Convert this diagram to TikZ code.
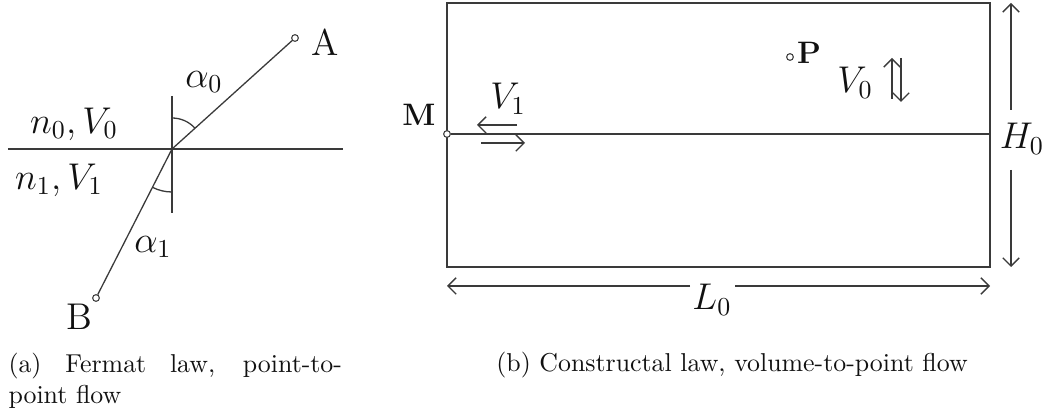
\documentclass[tikz,border=0pt]{standalone}
\usepackage{xcolor}
\usepackage{tikz}
\usetikzlibrary{arrows.meta,positioning,calc}
\definecolor{ink}{HTML}{111111}
\definecolor{rule}{HTML}{3A3A3A}

\begin{document}
\begin{tikzpicture}[x=0.0136cm,y=0.0136cm,>={Straight Barb[length=3.2pt,width=6.4pt]},
    hole/.style={circle,draw=rule,fill=white,line width=0.4pt,inner sep=0pt,minimum size=2.6pt},
    ray/.style={rule,line width=0.5pt},
    frame/.style={rule,line width=0.7pt},
    lab/.style={font=\Large,text=ink,inner sep=0pt}]
  \useasboundingbox (0,0) rectangle (1042,420);
  \foreach \n/\x/\y in {O/172/271, Wl/8/271, Wr/343/271, Nt/172/324, Nb/172/207,
      SW/447/153, NE/990/417, Me/990/286,
      q1/517/295, q2/477/295, q3/481/277, q4/525/277,
      u1/892/321, u2/892/362, d1/901/362, d2/901/318,
      H1/1011/310, Ht/1011/417, H2/1011/250, Hb/1011/153,
      L1/690/134, Ll/447/134, L2/735/134, Lr/990/134}
    \coordinate (\n) at (\x,\y);
  \node[hole] (A) at (295,382) {};
  \node[hole] (B) at (96,122) {};
  \draw[ray] (Wl) -- (Wr);
  \draw[ray] (Nt) -- (Nb);
  \draw[ray] (A) -- (O) -- (B);
  \draw[ray] ($(O)+(90:31)$) arc[start angle=90,end angle=42,radius=31];
  \draw[ray] ($(O)+(270:43)$) arc[start angle=270,end angle=243,radius=43];
  \node[lab] (Alab) at (325,378) {A};
  \node[lab] (Blab) at (79,103) {B};
  \node[lab] (a0) at (204,338) {$\alpha_0$};
  \node[lab] (a1) at (153,173) {$\alpha_1$};
  \node[lab] (m0) at (74,296) {$n_0, V_0$};
  \node[lab] (m1) at (59,240) {$n_1, V_1$};

  \draw[frame] (SW) rectangle (NE);
  \node[hole] (M) at (447,286) {};
  \draw[frame] (M) -- (Me);
  \node[lab,font=\large\bfseries] (Mlab) at (419,305) {M};
  \node[hole] (P) at (790,363) {};
  \node[lab,font=\large\bfseries] (Plab) at (809,367) {P};
  \node[lab] (V1) at (508,321) {$V_1$};
  \draw[ray,->] (q1) -- (q2);
  \draw[ray,->] (q3) -- (q4);
  \node[lab] (V0) at (855,337) {$V_0$};
  \draw[ray,->] (u1) -- (u2);
  \draw[ray,->] (d1) -- (d2);
  \node[lab] (H0) at (1022,281) {$H_0$};
  \draw[ray,->] (H1) -- (Ht);
  \draw[ray,->] (H2) -- (Hb);
  \node[lab] (L0) at (712,120) {$L_0$};
  \draw[ray,->] (L1) -- (Ll);
  \draw[ray,->] (L2) -- (Lr);

  \node[anchor=north west,text width=129pt,align=justify,inner sep=0pt,text=ink] (capa) at (8,67)
    {\tolerance=10000 (a) Fermat law, point-to-point flow};
  \node[anchor=base,inner sep=0pt,text=ink] (capb) at (732,48) {(b) Constructal law, volume-to-point flow};
\end{tikzpicture}
\end{document}
